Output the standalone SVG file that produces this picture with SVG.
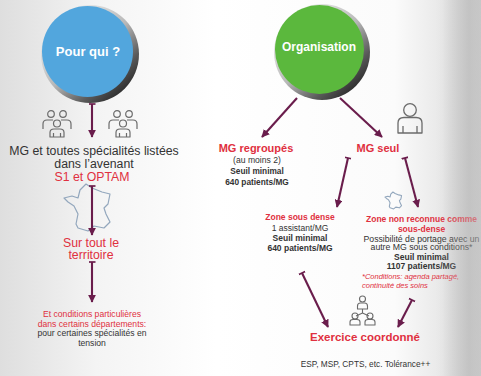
<svg xmlns="http://www.w3.org/2000/svg" width="481" height="376" viewBox="0 0 481 376">
<defs>
<linearGradient id="bg" x1="0" y1="0" x2="1" y2="0">
<stop offset="0" stop-color="#dedede"/>
<stop offset="0.2" stop-color="#f4f4f4"/>
<stop offset="0.45" stop-color="#ffffff"/>
<stop offset="0.82" stop-color="#fbfbfb"/>
<stop offset="0.92" stop-color="#e8e8e8"/>
<stop offset="0.975" stop-color="#c4c4c4"/>
<stop offset="1" stop-color="#d0d0d0"/>
</linearGradient>
<linearGradient id="ov" x1="0" y1="0" x2="1" y2="0">
<stop offset="0" stop-color="#c8c8c8" stop-opacity="0"/>
<stop offset="1" stop-color="#c0c0c0" stop-opacity="0.55"/>
</linearGradient>
<linearGradient id="ring" x1="0.15" y1="0.1" x2="0.85" y2="0.9">
<stop offset="0" stop-color="#f2f2f2"/>
<stop offset="0.5" stop-color="#b8b8b8"/>
<stop offset="0.8" stop-color="#5a5a5a"/>
<stop offset="1" stop-color="#2a2a2a"/>
</linearGradient>
<marker id="ah" viewBox="0 0 10 10" refX="9" refY="5" markerWidth="8" markerHeight="8" markerUnits="userSpaceOnUse" orient="auto">
<path d="M0,0 L10,5 L0,10 z" fill="#6a1d4c"/>
</marker>
<marker id="tee" viewBox="0 0 10 10" refX="5" refY="5" markerWidth="7" markerHeight="7" markerUnits="userSpaceOnUse" orient="auto">
<path d="M5,0 V10" stroke="#6a1d4c" stroke-width="2.4"/>
</marker>
<g id="people" fill="none" stroke="#6b6b6b" stroke-width="1.2" stroke-linejoin="round">
<circle cx="9" cy="4" r="3.3"/>
<circle cx="21" cy="4" r="3.3"/>
<path d="M1,19 V14 Q1,10 5,10 H11"/>
<path d="M29,19 V14 Q29,10 25,10 H19"/>
<circle cx="15" cy="13.5" r="3.5"/>
<path d="M8,27 V22.5 Q8,19 12,19 H18 Q22,19 22,22.5 V27 Z"/>
<path d="M11.5,27 V23 M18.5,27 V23"/>
</g>
<path id="france" d="M22,0 L28,4 L38,8 L46,10 L44,20 L40,24 L42,30 L46,38 L40,44 L30,42 L24,47 L14,44 L12,40 L14,30 L10,22 L4,18 L0,14 L8,12 L14,14 L16,6 Z"/>
</defs>
<style>
text{font-family:"Liberation Sans",Arial,sans-serif;text-anchor:middle}
.w{fill:#ffffff;font-weight:bold}
.d{fill:#333333}
.r{fill:#e03040}
.b{font-weight:bold}
.c{fill:none;stroke:#6a1d4c;stroke-width:2.1}
.map{fill:none;stroke:#93a7bd;stroke-width:1.2;stroke-linejoin:round}
</style>
<rect width="481" height="376" fill="url(#bg)"/>

<g id="pour-qui">
<circle cx="90" cy="54" r="49" fill="url(#ring)"/>
<circle cx="87.5" cy="51.5" r="45.5" fill="#52a6dd"/>
<text class="w" x="88" y="56" font-size="13">Pour qui ?</text>
</g>

<g id="organisation">
<circle cx="322" cy="52" r="48" fill="url(#ring)"/>
<circle cx="319.5" cy="49.5" r="44.5" fill="#5bb83d"/>
<text class="w" x="319" y="51" font-size="12">Organisation</text>
</g>

<g id="specialites">
<use href="#people" x="42" y="110"/>
<use href="#people" x="108" y="110"/>
<text class="d" x="94" y="154.5" font-size="12.3">MG et toutes spécialités listées</text>
<text class="d" x="94" y="168" font-size="12.3">dans l’avenant</text>
<text class="r" x="92" y="180.5" font-size="12.3">S1 et OPTAM</text>
</g>

<g id="territoire">
<use href="#france" class="map" transform="translate(64,184)"/>
<text class="r" x="91" y="246.5" font-size="12.3">Sur tout le</text>
<text class="r" x="91" y="259" font-size="12.3">territoire</text>
</g>

<g id="conditions">
<text class="r" x="92" y="317" font-size="8.6">Et conditions particulières</text>
<text class="r" x="92" y="326.5" font-size="8.6">dans certains départements:</text>
<text class="d" x="92" y="336" font-size="8.6">pour certaines spécialités en</text>
<text class="d" x="92" y="345.5" font-size="8.6">tension</text>
</g>

<g id="mg-regroupes">
<text class="r b" x="256" y="151.5" font-size="11">MG regroupés</text>
<text class="d" x="257" y="163" font-size="8.6">(au moins 2)</text>
<text class="d b" x="257" y="174" font-size="8.3">Seuil minimal</text>
<text class="d b" x="257" y="184.5" font-size="8.3">640 patients/MG</text>
</g>

<g id="mg-seul">
<g fill="none" stroke="#6b6b6b" stroke-width="1.3" stroke-linejoin="round">
<circle cx="410" cy="110" r="6.3"/>
<path d="M398,133 V123 Q398,117.5 404,117.5 H416 Q422,117.5 422,123 V133 Z"/>
<path d="M403,133 V126 M417,133 V126"/>
</g>
<text class="r b" x="378" y="151.5" font-size="11">MG seul</text>
</g>

<g id="zone-sous-dense">
<text class="r b" x="300" y="220" font-size="8.5">Zone sous dense</text>
<text class="d" x="300" y="230.5" font-size="8.5">1 assistant/MG</text>
<text class="d b" x="300" y="240.5" font-size="8.5">Seuil minimal</text>
<text class="d b" x="300" y="251" font-size="8.5">640 patients/MG</text>
</g>

<g id="zone-non-reconnue">
<use href="#france" class="map" transform="translate(385,192) scale(0.36)" style="stroke-width:3"/>
<text class="r b" x="421.5" y="222" font-size="8.5">Zone non reconnue comme</text>
<text class="r b" x="421.5" y="231.5" font-size="8.5">sous-dense</text>
<text class="d" x="421.5" y="241.5" font-size="8.7">Possibilité de portage avec un</text>
<text class="d" x="421.5" y="250" font-size="8.7">autre MG sous conditions*</text>
<text class="d b" x="421.5" y="259.5" font-size="8.5">Seuil minimal</text>
<text class="d b" x="421.5" y="269" font-size="8.5">1107 patients/MG</text>
<text class="r" x="362" y="279" font-size="7.5" font-style="italic" style="text-anchor:start">*Conditions: agenda partagé,</text>
<text class="r" x="362" y="288" font-size="7.5" font-style="italic" style="text-anchor:start">continuité des soins</text>
</g>

<g id="exercice-coordonne">
<g fill="none" stroke="#6b6b6b" stroke-width="1.1" stroke-linejoin="round">
<circle cx="362.5" cy="299" r="3"/>
<path d="M357.5,309 V306 Q357.5,303 360.5,303 H364.5 Q367.5,303 367.5,306 V309 Z"/>
<path d="M362.5,309 V313 M356,316 L362.5,313 L369,316"/>
<circle cx="355" cy="316" r="3"/>
<path d="M350,325 V322 Q350,319.5 353,319.5 H357 Q360,319.5 360,322 V325 Z"/>
<circle cx="370" cy="316" r="3"/>
<path d="M365,325 V322 Q365,319.5 368,319.5 H372 Q375,319.5 375,322 V325 Z"/>
</g>
<text class="r b" x="365" y="341" font-size="11.5">Exercice coordonné</text>
<text class="d" x="365.5" y="367" font-size="8.3">ESP, MSP, CPTS, etc. Tolérance++</text>
</g>

<g id="connectors">
<line class="c" x1="92" y1="104" x2="92" y2="137" marker-start="url(#tee)" marker-end="url(#ah)"/>
<line class="c" x1="92" y1="186" x2="92" y2="235" marker-start="url(#tee)" marker-end="url(#ah)"/>
<line class="c" x1="92" y1="262" x2="92" y2="302" marker-start="url(#tee)" marker-end="url(#ah)"/>
<line class="c" x1="297" y1="98" x2="262" y2="137" marker-end="url(#ah)"/>
<line class="c" x1="340" y1="98" x2="382" y2="137" marker-end="url(#ah)"/>
<line class="c" x1="348" y1="158" x2="337" y2="207" marker-start="url(#tee)" marker-end="url(#ah)"/>
<line class="c" x1="405" y1="158" x2="418" y2="207" marker-start="url(#tee)" marker-end="url(#ah)"/>
<line class="c" x1="302" y1="273" x2="328" y2="327" marker-start="url(#tee)" marker-end="url(#ah)"/>
<line class="c" x1="412" y1="300" x2="398" y2="327" marker-start="url(#tee)" marker-end="url(#ah)"/>
</g>

<rect x="436" y="0" width="45" height="376" fill="url(#ov)"/>
</svg>
